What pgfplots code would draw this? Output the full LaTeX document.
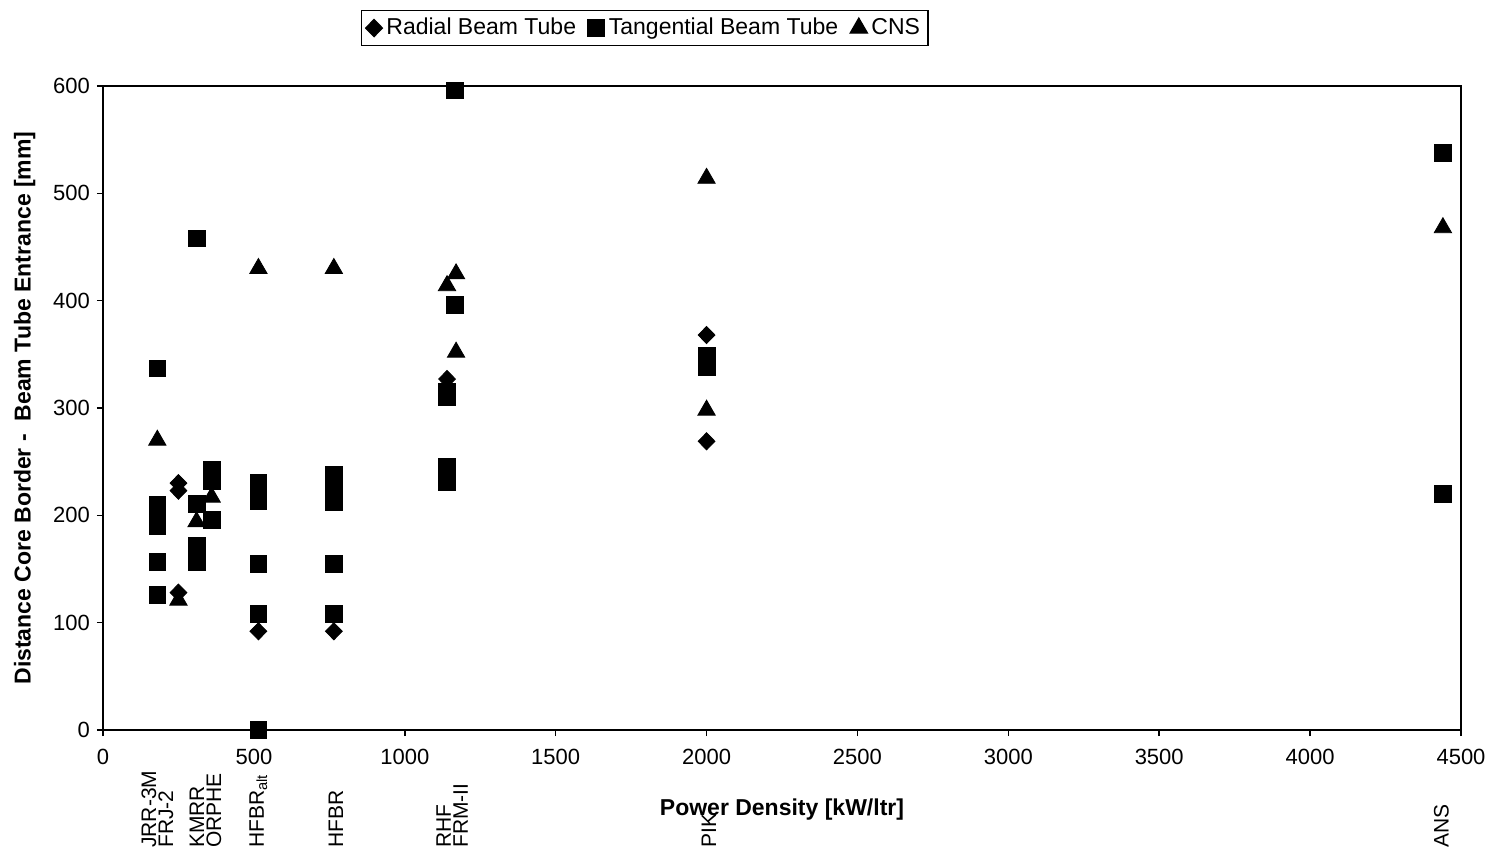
\documentclass[border=0pt]{standalone}
\usepackage{fontspec}
\setmainfont{Liberation Sans}
\usepackage{pgfplots}
\pgfplotsset{compat=1.18}

\begin{document}
\begin{tikzpicture}
\tikzset{
  rlab/.style={rotate=90, anchor=west, align=left, inner sep=0pt,
    font=\fontsize{10.5}{8.5}\selectfont},
}
\begin{axis}[
  name=ax,
  scale only axis, width=679pt, height=322pt,
  xmin=0, xmax=4500, ymin=0, ymax=600,
  xtick={0,500,...,4500}, ytick={0,100,...,600},
  tick align=outside, xtick pos=bottom, ytick pos=left,
  major tick length=3pt,
  axis line style={line width=1.1pt},
  every tick/.style={black, line width=0.8pt},
  /pgf/number format/assume math mode=true,
  /pgf/number format/1000 sep={},
  tick label style={font=\fontsize{11}{12}\selectfont},
  xticklabel style={yshift=-3pt},
  xlabel={Power Density [kW/ltr]},
  ylabel={Distance Core Border -\ \ Beam Tube Entrance [mm]},
  label style={font=\fontsize{11.5}{13}\selectfont\bfseries},
  xlabel style={yshift=-10pt},
  ylabel style={yshift=2pt},
  clip=false,
  legend columns=3,
  legend style={at={(axis description cs:0.399,1.09)}, anchor=center,
    draw=black, line width=0.6pt, inner sep=2pt,
    font=\fontsize{11.5}{13}\selectfont,
    /tikz/every even column/.append style={column sep=4pt}},
  legend image code/.code={\draw[#1] plot coordinates {(0.14cm,0cm)};},
  legend cell align=left,
]
\addplot[only marks, mark=diamond*, mark size=4.3pt, mark options={xscale=1.3, fill=black, draw=black}]
  coordinates {(250,230) (250,223) (250,128) (515,92) (765,92)
    (1140,327) (2000,368) (2000,269)};
\addlegendentry{Radial Beam Tube}
\addplot[only marks, mark=square*, mark size=4.2pt, mark options={fill=black, draw=black}]
  coordinates {
    (180,337) (180,210) (180,200) (180,190) (180,157) (180,126)
    (310,458) (310,211) (310,172) (310,165) (310,157)
    (360,242) (360,232) (360,196)
    (515,230) (515,222) (515,213) (515,155) (515,108) (515,0)
    (765,238) (765,225) (765,212) (765,155) (765,108)
    (1140,315) (1140,310) (1140,245) (1140,238) (1140,231)
    (1165,596) (1165,396)
    (2000,349) (2000,338)
    (4440,538) (4440,220)};
\addlegendentry{Tangential Beam Tube}
\addplot[only marks, mark=triangle*, mark size=5pt, mark options={fill=black, draw=black}]
  coordinates {(180,270) (250,121) (310,194) (360,217) (515,430) (765,430)
    (1140,414) (1170,425) (1170,352) (2000,514) (2000,298) (4440,468)};
\addlegendentry{CNS}

\node[rlab] at (axis cs:180,-110) {JRR-3M\\FRJ-2};
\node[rlab] at (axis cs:340,-110) {KMRR\\ORPHE};
\node[rlab] at (axis cs:515,-110) {HFBR\textsubscript{alt}};
\node[rlab] at (axis cs:772,-110) {HFBR};
\node[rlab] at (axis cs:1157,-110) {RHF\\FRM-II};
\node[rlab] at (axis cs:2008,-110) {PIK};
\node[rlab] at (axis cs:4435,-110) {ANS};
\end{axis}
\pgfresetboundingbox
\path[use as bounding box] (-51.5pt,-61.5pt) rectangle (694pt,365pt);
\end{tikzpicture}
\end{document}
